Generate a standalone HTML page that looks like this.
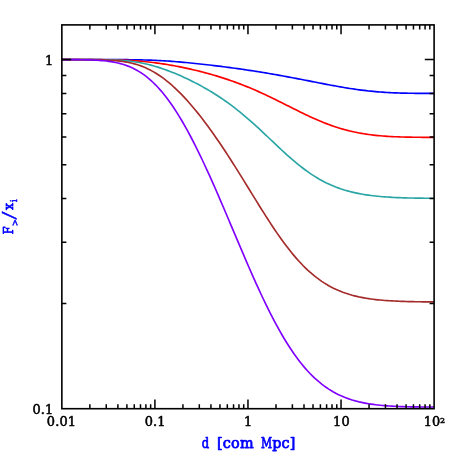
<!DOCTYPE html>
<html lang="en"><head><meta charset="utf-8"><title>F&gt;/xi vs d</title>
<style>html,body{margin:0;padding:0;background:#fff;}body{width:458px;height:458px;overflow:hidden;}svg{display:block;will-change:transform;}.tk{font-family:"DejaVu Serif", "Liberation Serif", serif;font-size:12.9px;fill:#000;stroke:#000;stroke-width:0.55px;letter-spacing:0.2px;stroke-linejoin:round;}.lb{font-family:"DejaVu Serif", "Liberation Serif", serif;font-size:14.4px;fill:#0000ff;stroke:#0000ff;stroke-width:0.75px;stroke-linejoin:round;}</style></head><body>
<svg width="458" height="458" viewBox="0 0 458 458">
<rect x="0" y="0" width="458" height="458" fill="#ffffff"/>
<g fill="none" stroke-width="1.65" stroke-linejoin="round" stroke-linecap="butt">
<path stroke="#0000ff" d="M61.85 59.60 L64.19 59.60 L66.53 59.60 L68.87 59.60 L71.21 59.60 L73.56 59.60 L75.90 59.60 L78.24 59.60 L80.58 59.60 L82.92 59.60 L85.26 59.60 L87.60 59.60 L89.94 59.60 L92.29 59.60 L94.63 59.60 L96.97 59.60 L99.31 59.60 L101.65 59.60 L103.99 59.60 L106.33 59.61 L108.67 59.61 L111.02 59.61 L113.36 59.62 L115.70 59.62 L118.04 59.63 L120.38 59.64 L122.72 59.65 L125.06 59.67 L127.40 59.69 L129.74 59.71 L132.09 59.74 L134.43 59.77 L136.77 59.81 L139.11 59.85 L141.45 59.90 L143.79 59.96 L146.13 60.03 L148.47 60.10 L150.82 60.18 L153.16 60.28 L155.50 60.38 L157.84 60.49 L160.18 60.61 L162.52 60.74 L164.86 60.88 L167.20 61.03 L169.54 61.18 L171.89 61.35 L174.23 61.53 L176.57 61.71 L178.91 61.91 L181.25 62.11 L183.59 62.31 L185.93 62.53 L188.27 62.75 L190.62 62.98 L192.96 63.22 L195.30 63.46 L197.64 63.71 L199.98 63.96 L202.32 64.21 L204.66 64.48 L207.00 64.74 L209.35 65.01 L211.69 65.29 L214.03 65.57 L216.37 65.85 L218.71 66.14 L221.05 66.44 L223.39 66.73 L225.73 67.04 L228.07 67.34 L230.42 67.65 L232.76 67.97 L235.10 68.29 L237.44 68.61 L239.78 68.94 L242.12 69.28 L244.46 69.62 L246.80 69.96 L249.15 70.31 L251.49 70.67 L253.83 71.03 L256.17 71.39 L258.51 71.76 L260.85 72.14 L263.19 72.52 L265.53 72.91 L267.88 73.30 L270.22 73.70 L272.56 74.11 L274.90 74.51 L277.24 74.93 L279.58 75.35 L281.92 75.77 L284.26 76.20 L286.60 76.63 L288.95 77.07 L291.29 77.51 L293.63 77.95 L295.97 78.40 L298.31 78.85 L300.65 79.30 L302.99 79.76 L305.33 80.22 L307.68 80.67 L310.02 81.13 L312.36 81.59 L314.70 82.05 L317.04 82.51 L319.38 82.96 L321.72 83.42 L324.06 83.87 L326.41 84.32 L328.75 84.76 L331.09 85.20 L333.43 85.63 L335.77 86.06 L338.11 86.48 L340.45 86.89 L342.79 87.29 L345.13 87.69 L347.48 88.07 L349.82 88.44 L352.16 88.80 L354.50 89.15 L356.84 89.49 L359.18 89.81 L361.52 90.11 L363.86 90.41 L366.21 90.69 L368.55 90.95 L370.89 91.19 L373.23 91.43 L375.57 91.64 L377.91 91.84 L380.25 92.02 L382.59 92.19 L384.93 92.35 L387.28 92.49 L389.62 92.61 L391.96 92.73 L394.30 92.83 L396.64 92.92 L398.98 92.99 L401.32 93.06 L403.66 93.12 L406.01 93.17 L408.35 93.21 L410.69 93.25 L413.03 93.28 L415.37 93.31 L417.71 93.33 L420.05 93.34 L422.39 93.36 L424.74 93.37 L427.08 93.37 L429.42 93.38 L431.76 93.39 L434.10 93.39"/>
<path stroke="#ff0000" d="M61.85 59.60 L64.19 59.60 L66.53 59.60 L68.87 59.60 L71.21 59.60 L73.56 59.60 L75.90 59.60 L78.24 59.61 L80.58 59.61 L82.92 59.61 L85.26 59.61 L87.60 59.62 L89.94 59.63 L92.29 59.63 L94.63 59.64 L96.97 59.66 L99.31 59.67 L101.65 59.69 L103.99 59.72 L106.33 59.75 L108.67 59.78 L111.02 59.82 L113.36 59.87 L115.70 59.93 L118.04 59.99 L120.38 60.07 L122.72 60.16 L125.06 60.25 L127.40 60.36 L129.74 60.49 L132.09 60.62 L134.43 60.77 L136.77 60.94 L139.11 61.12 L141.45 61.31 L143.79 61.53 L146.13 61.75 L148.47 62.00 L150.82 62.26 L153.16 62.54 L155.50 62.83 L157.84 63.14 L160.18 63.47 L162.52 63.82 L164.86 64.17 L167.20 64.55 L169.54 64.94 L171.89 65.35 L174.23 65.77 L176.57 66.21 L178.91 66.66 L181.25 67.13 L183.59 67.61 L185.93 68.11 L188.27 68.62 L190.62 69.14 L192.96 69.68 L195.30 70.24 L197.64 70.80 L199.98 71.39 L202.32 71.99 L204.66 72.60 L207.00 73.23 L209.35 73.88 L211.69 74.54 L214.03 75.22 L216.37 75.91 L218.71 76.63 L221.05 77.36 L223.39 78.10 L225.73 78.87 L228.07 79.65 L230.42 80.46 L232.76 81.28 L235.10 82.12 L237.44 82.98 L239.78 83.86 L242.12 84.76 L244.46 85.69 L246.80 86.63 L249.15 87.59 L251.49 88.57 L253.83 89.57 L256.17 90.59 L258.51 91.62 L260.85 92.68 L263.19 93.75 L265.53 94.84 L267.88 95.94 L270.22 97.06 L272.56 98.19 L274.90 99.33 L277.24 100.48 L279.58 101.64 L281.92 102.81 L284.26 103.98 L286.60 105.16 L288.95 106.34 L291.29 107.51 L293.63 108.68 L295.97 109.85 L298.31 111.01 L300.65 112.16 L302.99 113.30 L305.33 114.43 L307.68 115.54 L310.02 116.63 L312.36 117.70 L314.70 118.75 L317.04 119.78 L319.38 120.78 L321.72 121.75 L324.06 122.70 L326.41 123.61 L328.75 124.50 L331.09 125.35 L333.43 126.17 L335.77 126.95 L338.11 127.71 L340.45 128.43 L342.79 129.11 L345.13 129.76 L347.48 130.38 L349.82 130.96 L352.16 131.51 L354.50 132.03 L356.84 132.51 L359.18 132.96 L361.52 133.38 L363.86 133.78 L366.21 134.14 L368.55 134.48 L370.89 134.79 L373.23 135.07 L375.57 135.33 L377.91 135.57 L380.25 135.78 L382.59 135.98 L384.93 136.16 L387.28 136.31 L389.62 136.46 L391.96 136.58 L394.30 136.70 L396.64 136.80 L398.98 136.89 L401.32 136.96 L403.66 137.03 L406.01 137.09 L408.35 137.14 L410.69 137.18 L413.03 137.22 L415.37 137.25 L417.71 137.28 L420.05 137.30 L422.39 137.32 L424.74 137.34 L427.08 137.35 L429.42 137.36 L431.76 137.37 L434.10 137.38"/>
<path stroke="#2aa5a5" d="M61.85 59.60 L64.19 59.60 L66.53 59.60 L68.87 59.60 L71.21 59.60 L73.56 59.60 L75.90 59.60 L78.24 59.61 L80.58 59.61 L82.92 59.61 L85.26 59.61 L87.60 59.62 L89.94 59.63 L92.29 59.63 L94.63 59.64 L96.97 59.66 L99.31 59.67 L101.65 59.70 L103.99 59.73 L106.33 59.78 L108.67 59.83 L111.02 59.90 L113.36 59.98 L115.70 60.08 L118.04 60.20 L120.38 60.34 L122.72 60.51 L125.06 60.70 L127.40 60.92 L129.74 61.18 L132.09 61.47 L134.43 61.79 L136.77 62.15 L139.11 62.55 L141.45 62.98 L143.79 63.46 L146.13 63.97 L148.47 64.53 L150.82 65.13 L153.16 65.76 L155.50 66.43 L157.84 67.15 L160.18 67.89 L162.52 68.68 L164.86 69.50 L167.20 70.35 L169.54 71.23 L171.89 72.15 L174.23 73.09 L176.57 74.07 L178.91 75.07 L181.25 76.10 L183.59 77.16 L185.93 78.25 L188.27 79.36 L190.62 80.50 L192.96 81.67 L195.30 82.87 L197.64 84.09 L199.98 85.34 L202.32 86.62 L204.66 87.94 L207.00 89.28 L209.35 90.66 L211.69 92.07 L214.03 93.51 L216.37 94.99 L218.71 96.51 L221.05 98.06 L223.39 99.65 L225.73 101.28 L228.07 102.95 L230.42 104.67 L232.76 106.42 L235.10 108.21 L237.44 110.05 L239.78 111.92 L242.12 113.84 L244.46 115.79 L246.80 117.78 L249.15 119.81 L251.49 121.87 L253.83 123.96 L256.17 126.08 L258.51 128.23 L260.85 130.40 L263.19 132.59 L265.53 134.79 L267.88 137.01 L270.22 139.23 L272.56 141.45 L274.90 143.67 L277.24 145.88 L279.58 148.08 L281.92 150.25 L284.26 152.41 L286.60 154.53 L288.95 156.63 L291.29 158.68 L293.63 160.69 L295.97 162.66 L298.31 164.58 L300.65 166.44 L302.99 168.25 L305.33 170.00 L307.68 171.69 L310.02 173.31 L312.36 174.88 L314.70 176.37 L317.04 177.81 L319.38 179.18 L321.72 180.48 L324.06 181.72 L326.41 182.90 L328.75 184.01 L331.09 185.07 L333.43 186.06 L335.77 187.00 L338.11 187.88 L340.45 188.71 L342.79 189.48 L345.13 190.21 L347.48 190.88 L349.82 191.51 L352.16 192.10 L354.50 192.65 L356.84 193.16 L359.18 193.63 L361.52 194.06 L363.86 194.46 L366.21 194.83 L368.55 195.17 L370.89 195.49 L373.23 195.78 L375.57 196.04 L377.91 196.28 L380.25 196.50 L382.59 196.70 L384.93 196.88 L387.28 197.05 L389.62 197.19 L391.96 197.33 L394.30 197.45 L396.64 197.56 L398.98 197.65 L401.32 197.74 L403.66 197.82 L406.01 197.89 L408.35 197.95 L410.69 198.00 L413.03 198.04 L415.37 198.08 L417.71 198.12 L420.05 198.15 L422.39 198.17 L424.74 198.20 L427.08 198.21 L429.42 198.23 L431.76 198.24 L434.10 198.25"/>
<path stroke="#a52a2a" d="M61.85 59.60 L64.19 59.60 L66.53 59.60 L68.87 59.60 L71.21 59.60 L73.56 59.61 L75.90 59.61 L78.24 59.61 L80.58 59.62 L82.92 59.62 L85.26 59.63 L87.60 59.65 L89.94 59.66 L92.29 59.68 L94.63 59.71 L96.97 59.75 L99.31 59.80 L101.65 59.86 L103.99 59.93 L106.33 60.02 L108.67 60.14 L111.02 60.27 L113.36 60.44 L115.70 60.63 L118.04 60.86 L120.38 61.14 L122.72 61.45 L125.06 61.82 L127.40 62.24 L129.74 62.72 L132.09 63.26 L134.43 63.87 L136.77 64.55 L139.11 65.31 L141.45 66.14 L143.79 67.07 L146.13 68.07 L148.47 69.17 L150.82 70.36 L153.16 71.63 L155.50 73.01 L157.84 74.47 L160.18 76.04 L162.52 77.69 L164.86 79.44 L167.20 81.28 L169.54 83.22 L171.89 85.24 L174.23 87.35 L176.57 89.55 L178.91 91.83 L181.25 94.20 L183.59 96.64 L185.93 99.17 L188.27 101.77 L190.62 104.44 L192.96 107.19 L195.30 110.00 L197.64 112.88 L199.98 115.83 L202.32 118.85 L204.66 121.92 L207.00 125.05 L209.35 128.25 L211.69 131.50 L214.03 134.80 L216.37 138.16 L218.71 141.56 L221.05 145.02 L223.39 148.52 L225.73 152.07 L228.07 155.66 L230.42 159.29 L232.76 162.95 L235.10 166.65 L237.44 170.37 L239.78 174.12 L242.12 177.89 L244.46 181.68 L246.80 185.48 L249.15 189.28 L251.49 193.09 L253.83 196.89 L256.17 200.68 L258.51 204.45 L260.85 208.21 L263.19 211.93 L265.53 215.62 L267.88 219.27 L270.22 222.88 L272.56 226.43 L274.90 229.92 L277.24 233.35 L279.58 236.70 L281.92 239.99 L284.26 243.19 L286.60 246.30 L288.95 249.33 L291.29 252.27 L293.63 255.11 L295.97 257.85 L298.31 260.50 L300.65 263.04 L302.99 265.48 L305.33 267.81 L307.68 270.05 L310.02 272.18 L312.36 274.20 L314.70 276.13 L317.04 277.96 L319.38 279.68 L321.72 281.32 L324.06 282.86 L326.41 284.31 L328.75 285.67 L331.09 286.95 L333.43 288.15 L335.77 289.27 L338.11 290.32 L340.45 291.29 L342.79 292.20 L345.13 293.04 L347.48 293.82 L349.82 294.55 L352.16 295.22 L354.50 295.83 L356.84 296.40 L359.18 296.93 L361.52 297.41 L363.86 297.85 L366.21 298.26 L368.55 298.63 L370.89 298.97 L373.23 299.28 L375.57 299.56 L377.91 299.82 L380.25 300.05 L382.59 300.26 L384.93 300.45 L387.28 300.63 L389.62 300.78 L391.96 300.92 L394.30 301.05 L396.64 301.16 L398.98 301.26 L401.32 301.35 L403.66 301.43 L406.01 301.51 L408.35 301.57 L410.69 301.63 L413.03 301.68 L415.37 301.72 L417.71 301.76 L420.05 301.79 L422.39 301.82 L424.74 301.85 L427.08 301.87 L429.42 301.89 L431.76 301.91 L434.10 301.92"/>
<path stroke="#8000ff" d="M61.85 59.61 L64.19 59.62 L66.53 59.62 L68.87 59.63 L71.21 59.64 L73.56 59.65 L75.90 59.67 L78.24 59.69 L80.58 59.72 L82.92 59.76 L85.26 59.81 L87.60 59.86 L89.94 59.93 L92.29 60.02 L94.63 60.13 L96.97 60.25 L99.31 60.41 L101.65 60.59 L103.99 60.80 L106.33 61.05 L108.67 61.35 L111.02 61.69 L113.36 62.08 L115.70 62.54 L118.04 63.05 L120.38 63.64 L122.72 64.30 L125.06 65.05 L127.40 65.88 L129.74 66.81 L132.09 67.84 L134.43 68.98 L136.77 70.22 L139.11 71.59 L141.45 73.07 L143.79 74.69 L146.13 76.43 L148.47 78.31 L150.82 80.33 L153.16 82.49 L155.50 84.80 L157.84 87.25 L160.18 89.84 L162.52 92.58 L164.86 95.47 L167.20 98.51 L169.54 101.69 L171.89 105.02 L174.23 108.48 L176.57 112.09 L178.91 115.84 L181.25 119.72 L183.59 123.73 L185.93 127.87 L188.27 132.13 L190.62 136.50 L192.96 141.00 L195.30 145.60 L197.64 150.30 L199.98 155.11 L202.32 160.00 L204.66 164.99 L207.00 170.05 L209.35 175.19 L211.69 180.40 L214.03 185.68 L216.37 191.01 L218.71 196.39 L221.05 201.81 L223.39 207.27 L225.73 212.77 L228.07 218.28 L230.42 223.81 L232.76 229.35 L235.10 234.89 L237.44 240.42 L239.78 245.94 L242.12 251.44 L244.46 256.91 L246.80 262.34 L249.15 267.73 L251.49 273.07 L253.83 278.35 L256.17 283.56 L258.51 288.70 L260.85 293.76 L263.19 298.73 L265.53 303.62 L267.88 308.40 L270.22 313.08 L272.56 317.65 L274.90 322.11 L277.24 326.45 L279.58 330.66 L281.92 334.75 L284.26 338.72 L286.60 342.55 L288.95 346.25 L291.29 349.81 L293.63 353.24 L295.97 356.53 L298.31 359.69 L300.65 362.71 L302.99 365.60 L305.33 368.35 L307.68 370.98 L310.02 373.47 L312.36 375.84 L314.70 378.08 L317.04 380.20 L319.38 382.20 L321.72 384.09 L324.06 385.87 L326.41 387.54 L328.75 389.10 L331.09 390.57 L333.43 391.94 L335.77 393.22 L338.11 394.41 L340.45 395.52 L342.79 396.54 L345.13 397.50 L347.48 398.38 L349.82 399.19 L352.16 399.95 L354.50 400.64 L356.84 401.27 L359.18 401.86 L361.52 402.39 L363.86 402.88 L366.21 403.32 L368.55 403.73 L370.89 404.09 L373.23 404.43 L375.57 404.73 L377.91 405.00 L380.25 405.25 L382.59 405.47 L384.93 405.66 L387.28 405.84 L389.62 406.00 L391.96 406.14 L394.30 406.26 L396.64 406.37 L398.98 406.47 L401.32 406.56 L403.66 406.63 L406.01 406.70 L408.35 406.76 L410.69 406.81 L413.03 406.85 L415.37 406.89 L417.71 406.92 L420.05 406.95 L422.39 406.98 L424.74 407.00 L427.08 407.01 L429.42 407.03 L431.76 407.04 L434.10 407.05"/>
</g>
<path d="M89.86 24.90v4.50M89.86 408.70v-4.50M106.25 24.90v4.50M106.25 408.70v-4.50M117.88 24.90v4.50M117.88 408.70v-4.50M126.90 24.90v4.50M126.90 408.70v-4.50M134.27 24.90v4.50M134.27 408.70v-4.50M140.50 24.90v4.50M140.50 408.70v-4.50M145.89 24.90v4.50M145.89 408.70v-4.50M150.65 24.90v4.50M150.65 408.70v-4.50M154.91 24.90v9.30M154.91 408.70v-9.30M182.93 24.90v4.50M182.93 408.70v-4.50M199.31 24.90v4.50M199.31 408.70v-4.50M210.94 24.90v4.50M210.94 408.70v-4.50M219.96 24.90v4.50M219.96 408.70v-4.50M227.33 24.90v4.50M227.33 408.70v-4.50M233.56 24.90v4.50M233.56 408.70v-4.50M238.96 24.90v4.50M238.96 408.70v-4.50M243.72 24.90v4.50M243.72 408.70v-4.50M247.97 24.90v9.30M247.97 408.70v-9.30M275.99 24.90v4.50M275.99 408.70v-4.50M292.38 24.90v4.50M292.38 408.70v-4.50M304.00 24.90v4.50M304.00 408.70v-4.50M313.02 24.90v4.50M313.02 408.70v-4.50M320.39 24.90v4.50M320.39 408.70v-4.50M326.62 24.90v4.50M326.62 408.70v-4.50M332.02 24.90v4.50M332.02 408.70v-4.50M336.78 24.90v4.50M336.78 408.70v-4.50M341.04 24.90v9.30M341.04 408.70v-9.30M369.05 24.90v4.50M369.05 408.70v-4.50M385.44 24.90v4.50M385.44 408.70v-4.50M397.07 24.90v4.50M397.07 408.70v-4.50M406.09 24.90v4.50M406.09 408.70v-4.50M413.45 24.90v4.50M413.45 408.70v-4.50M419.68 24.90v4.50M419.68 408.70v-4.50M425.08 24.90v4.50M425.08 408.70v-4.50M429.84 24.90v4.50M429.84 408.70v-4.50M61.85 303.61h4.50M434.10 303.61h-4.50M61.85 242.14h4.50M434.10 242.14h-4.50M61.85 198.52h4.50M434.10 198.52h-4.50M61.85 164.69h4.50M434.10 164.69h-4.50M61.85 137.05h4.50M434.10 137.05h-4.50M61.85 113.68h4.50M434.10 113.68h-4.50M61.85 93.43h4.50M434.10 93.43h-4.50M61.85 75.57h4.50M434.10 75.57h-4.50M61.85 59.60h9.30M434.10 59.60h-9.30" stroke="#000" stroke-width="1.5" fill="none"/>
<rect x="61.85" y="24.90" width="372.25" height="383.80" fill="none" stroke="#000" stroke-width="1.6"/>
<g class="tk" text-anchor="middle">
<text x="61.5" y="426.4">0.01</text>
<text x="155.2" y="426.4">0.1</text>
<text x="248.3" y="426.4">1</text>
<text x="341.5" y="426.4">10</text>
<text x="434.5" y="426.4">10<tspan dx="-0.5" dy="-3.9" font-size="8px">2</tspan></text>
</g>
<g class="tk" text-anchor="end">
<text x="53.5" y="65.2">1</text>
<text x="53.5" y="413.9">0.1</text>
</g>
<text class="lb" y="448.4"><tspan x="201.7" textLength="7.4" lengthAdjust="spacingAndGlyphs">d</tspan> <tspan x="216.9" style="letter-spacing:0.25px">[com</tspan> <tspan x="261" textLength="11.1" lengthAdjust="spacingAndGlyphs">M</tspan><tspan x="272.3" style="letter-spacing:0.1px">pc]</tspan></text>
<text class="lb" transform="translate(13.5 234) rotate(-90)"><tspan x="-0.2" y="-0.3" font-size="13.2px" textLength="7.8" lengthAdjust="spacingAndGlyphs">F</tspan><tspan x="7.8" y="4.3" font-size="8.5px" stroke-width="0.5">&gt;</tspan><tspan x="13.9" y="1.5" font-size="17.5px" font-family="DejaVu Sans, Liberation Sans, sans-serif" font-weight="200" stroke-width="0.4" textLength="8.8" lengthAdjust="spacingAndGlyphs">/</tspan><tspan x="24.0" y="-0.2" font-size="13.4px" textLength="7.0" lengthAdjust="spacingAndGlyphs">x</tspan><tspan x="32.0" y="3.8" font-size="8.4px" stroke-width="0.5">i</tspan></text>
</svg></body></html>
